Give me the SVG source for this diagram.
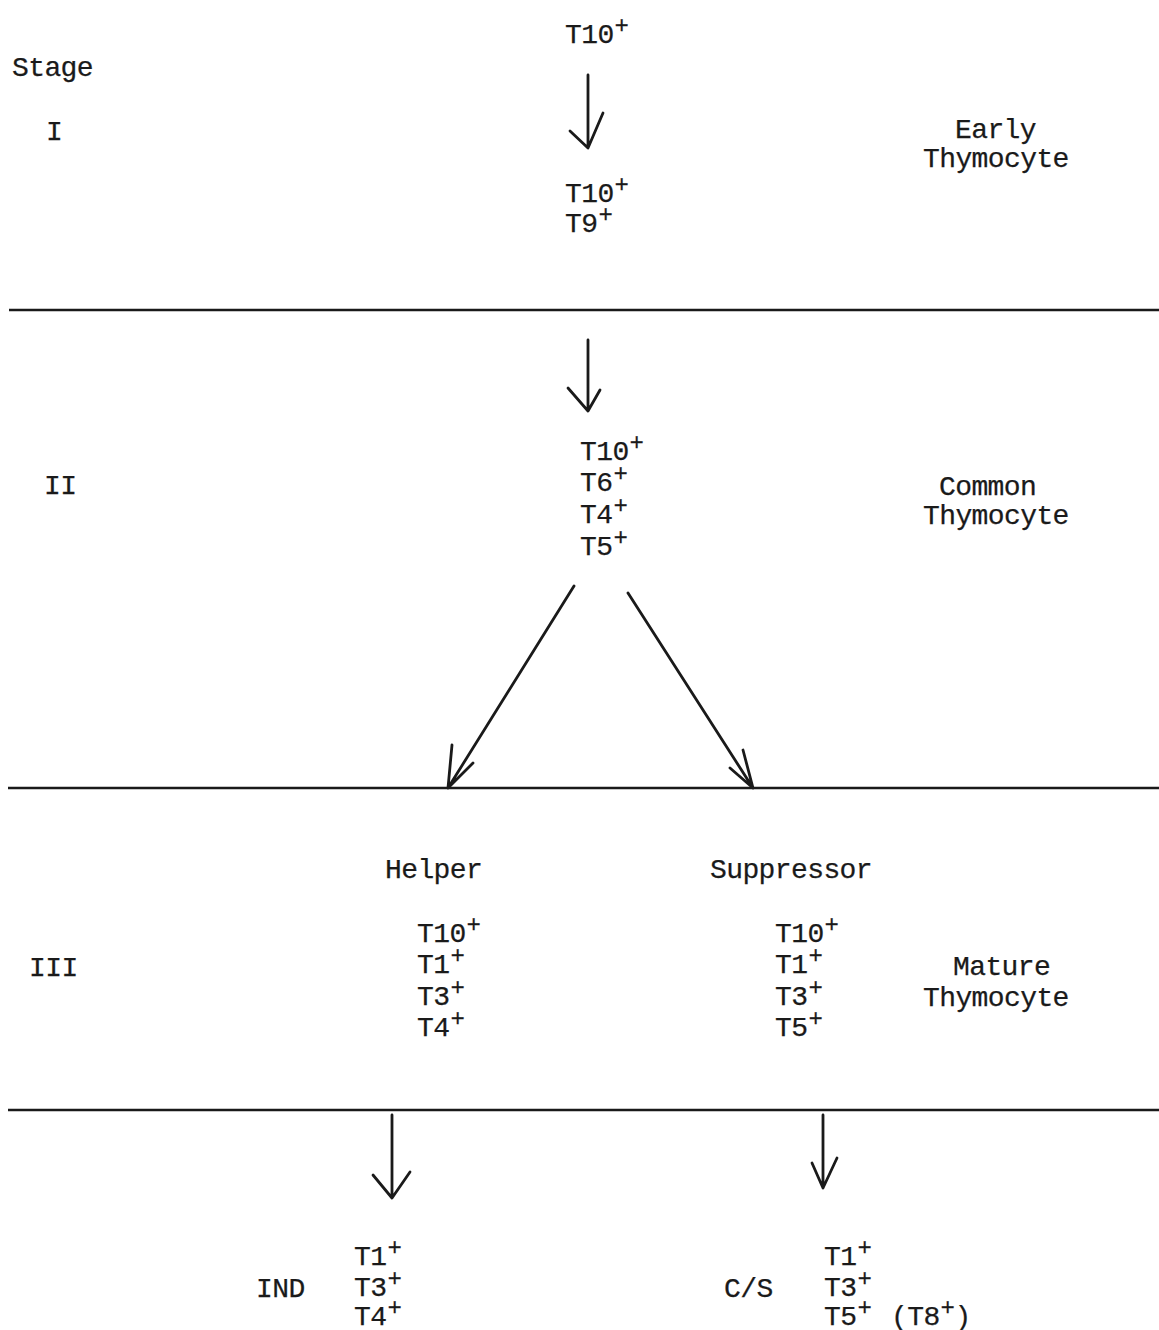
<svg xmlns="http://www.w3.org/2000/svg" width="1159" height="1330" viewBox="0 0 1159 1330">
<style>
text{font-family:"Liberation Mono","Courier New",monospace;font-size:28px;letter-spacing:-0.6px;fill:#1a1a1a;stroke:#1a1a1a;stroke-width:0.25px}
.sup{font-size:24px}
.rule{stroke:#1a1a1a;stroke-width:2.6;fill:none}
.arr{stroke:#1a1a1a;stroke-width:2.8;fill:none;stroke-linecap:round;stroke-linejoin:round}
</style>
<rect width="1159" height="1330" fill="#ffffff"/>
<g id="dividers">
<line class="rule" x1="9" y1="310" x2="1159" y2="310"/>
<line class="rule" x1="8" y1="788" x2="1159" y2="788"/>
<line class="rule" x1="8" y1="1110" x2="1159" y2="1110"/>
</g>
<g id="stage-labels">
<text x="12" y="76">Stage</text>
<text x="46" y="140">I</text>
<text x="44" y="494">II</text>
<text x="29" y="976">III</text>
</g>
<g id="n-top"><text x="565" y="43">T10<tspan class="sup" dy="-10" dx="1">+</tspan></text></g>
<g id="n-stage1">
<text x="565" y="202">T10<tspan class="sup" dy="-10" dx="1">+</tspan></text>
<text x="565" y="232">T9<tspan class="sup" dy="-10" dx="1">+</tspan></text>
</g>
<g id="n-early"><text x="955" y="138">Early</text><text x="923" y="167">Thymocyte</text></g>
<g id="n-stage2">
<text x="580" y="460">T10<tspan class="sup" dy="-10" dx="1">+</tspan></text>
<text x="580" y="491">T6<tspan class="sup" dy="-10" dx="1">+</tspan></text>
<text x="580" y="523">T4<tspan class="sup" dy="-10" dx="1">+</tspan></text>
<text x="580" y="555">T5<tspan class="sup" dy="-10" dx="1">+</tspan></text>
</g>
<g id="n-common"><text x="939" y="495">Common</text><text x="923" y="524">Thymocyte</text></g>
<g id="n-helper">
<text x="385" y="878">Helper</text>
<text x="417" y="942">T10<tspan class="sup" dy="-10" dx="1">+</tspan></text>
<text x="417" y="973">T1<tspan class="sup" dy="-10" dx="1">+</tspan></text>
<text x="417" y="1005">T3<tspan class="sup" dy="-10" dx="1">+</tspan></text>
<text x="417" y="1036">T4<tspan class="sup" dy="-10" dx="1">+</tspan></text>
</g>
<g id="n-suppressor">
<text x="710" y="878">Suppressor</text>
<text x="775" y="942">T10<tspan class="sup" dy="-10" dx="1">+</tspan></text>
<text x="775" y="973">T1<tspan class="sup" dy="-10" dx="1">+</tspan></text>
<text x="775" y="1005">T3<tspan class="sup" dy="-10" dx="1">+</tspan></text>
<text x="775" y="1036">T5<tspan class="sup" dy="-10" dx="1">+</tspan></text>
</g>
<g id="n-mature"><text x="953" y="975">Mature</text><text x="923" y="1006">Thymocyte</text></g>
<g id="n-ind">
<text x="256" y="1297">IND</text>
<text x="354" y="1265">T1<tspan class="sup" dy="-10" dx="1">+</tspan></text>
<text x="354" y="1296">T3<tspan class="sup" dy="-10" dx="1">+</tspan></text>
<text x="354" y="1325">T4<tspan class="sup" dy="-10" dx="1">+</tspan></text>
</g>
<g id="n-cs">
<text x="724" y="1297">C/S</text>
<text x="824" y="1265">T1<tspan class="sup" dy="-10" dx="1">+</tspan></text>
<text x="824" y="1296">T3<tspan class="sup" dy="-10" dx="1">+</tspan></text>
<text x="824" y="1325">T5<tspan class="sup" dy="-10" dx="1">+</tspan></text>
<text x="891" y="1325">(T8<tspan class="sup" dy="-10" dx="1">+</tspan><tspan dy="10">)</tspan></text>
</g>
<g id="connectors">
<path class="arr" d="M588 75 L588 148 M570 131 L588 148 L603 113"/>
<path class="arr" d="M588 340 L588 411 M568 388 L588 411 L600 390"/>
<path class="arr" d="M574 586 L448 788 M452 745 L448 788 L473 763"/>
<path class="arr" d="M628 593 L753 788 M743 750 L753 788 L730 768"/>
<path class="arr" d="M392 1115 L392 1198 M373 1175 L392 1198 L410 1172"/>
<path class="arr" d="M823 1115 L823 1188 M812 1163 L823 1188 L837 1158"/>
</g>
</svg>
